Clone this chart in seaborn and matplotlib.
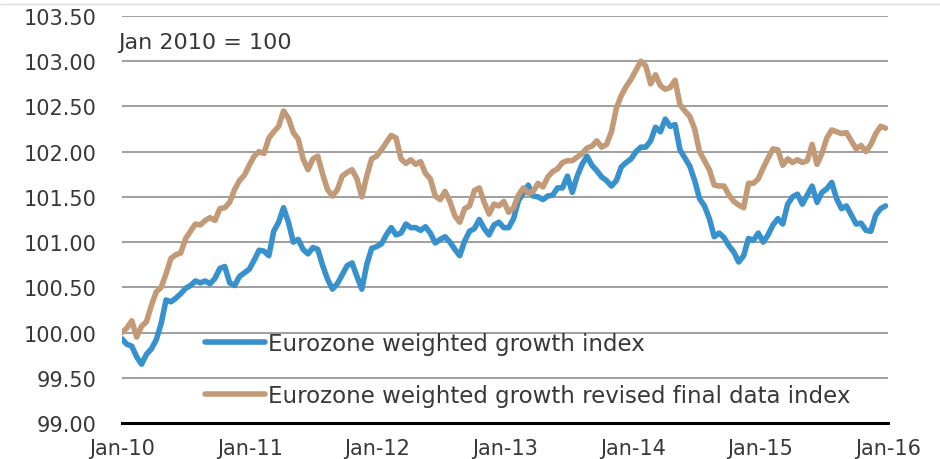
import pandas as pd
import matplotlib.pyplot as plt
import matplotlib.dates as mdates
from matplotlib.lines import Line2D
import seaborn as sns

# --- DATA (fortnightly readings, Jan 2010 = 100) ---
start_date = "2010-01-01"

growth_index = [
    99.93, 99.87, 99.85, 99.73, 99.65, 99.76, 99.82, 99.92, 100.10, 100.36,
    100.34, 100.38, 100.43, 100.49, 100.52, 100.57, 100.55, 100.57, 100.54, 100.60,
    100.71, 100.73, 100.55, 100.52, 100.62, 100.66, 100.70, 100.80, 100.91, 100.90,
    100.85, 101.12, 101.22, 101.38, 101.22, 101.00, 101.03, 100.92, 100.87, 100.94,
    100.92, 100.74, 100.59, 100.48, 100.54, 100.64, 100.74, 100.77, 100.62, 100.48,
    100.75, 100.93, 100.95, 100.98, 101.08, 101.16, 101.08, 101.10, 101.20, 101.16,
    101.16, 101.13, 101.17, 101.10, 100.99, 101.03, 101.06, 101.00, 100.92, 100.85,
    101.01, 101.12, 101.15, 101.25, 101.15, 101.08, 101.19, 101.22, 101.16, 101.16,
    101.26, 101.46, 101.54, 101.63, 101.51, 101.50, 101.47, 101.51, 101.52, 101.60,
    101.60, 101.73, 101.55, 101.73, 101.86, 101.95, 101.85, 101.79, 101.72, 101.68,
    101.62, 101.68, 101.83, 101.88, 101.92, 102.00, 102.05, 102.05, 102.12, 102.27,
    102.22, 102.36, 102.28, 102.30, 102.02, 101.93, 101.84, 101.68, 101.48, 101.40,
    101.26, 101.06, 101.10, 101.05, 100.96, 100.89, 100.78, 100.85, 101.04, 101.02,
    101.10, 101.00, 101.08, 101.19, 101.26, 101.20, 101.42, 101.50, 101.53, 101.42,
    101.52, 101.62, 101.44, 101.55, 101.59, 101.66, 101.48, 101.37, 101.40, 101.30,
    101.20, 101.21, 101.13, 101.12, 101.30, 101.37, 101.40,
]

revised_index = [
    100.00, 100.05, 100.13, 99.95, 100.07, 100.12, 100.30, 100.45, 100.50, 100.65,
    100.82, 100.86, 100.88, 101.04, 101.12, 101.20, 101.19, 101.24, 101.27, 101.24,
    101.37, 101.38, 101.44, 101.58, 101.68, 101.74, 101.85, 101.95, 102.00, 101.98,
    102.15, 102.22, 102.28, 102.45, 102.37, 102.21, 102.14, 101.92, 101.80, 101.92,
    101.95, 101.75, 101.58, 101.51, 101.58, 101.73, 101.77, 101.80, 101.70, 101.50,
    101.73, 101.92, 101.95, 102.02, 102.10, 102.18, 102.15, 101.92, 101.87, 101.91,
    101.86, 101.89, 101.76, 101.70, 101.51, 101.47, 101.56, 101.45, 101.29, 101.22,
    101.37, 101.40, 101.57, 101.60, 101.44, 101.31, 101.42, 101.40, 101.45, 101.33,
    101.38, 101.52, 101.60, 101.54, 101.56, 101.65, 101.61, 101.72, 101.78, 101.81,
    101.88, 101.90, 101.90, 101.94, 101.98, 102.04, 102.06, 102.12, 102.05, 102.08,
    102.22, 102.48, 102.62, 102.72, 102.80, 102.90, 103.00, 102.95, 102.75, 102.85,
    102.73, 102.69, 102.71, 102.79, 102.52, 102.45, 102.39, 102.25, 102.00, 101.90,
    101.80, 101.63, 101.62, 101.62, 101.52, 101.45, 101.41, 101.38, 101.65, 101.65,
    101.70, 101.82, 101.93, 102.03, 102.02, 101.85, 101.92, 101.88, 101.91, 101.88,
    101.90, 102.08, 101.86, 101.98, 102.15, 102.24, 102.22, 102.20, 102.21, 102.12,
    102.03, 102.07, 102.00, 102.08, 102.20, 102.28, 102.26,
]

label_growth = "Eurozone weighted growth index"
label_revised = "Eurozone weighted growth revised final data index"
base_note = "Jan 2010 = 100"
y_ticks = [99.0, 99.5, 100.0, 100.5, 101.0, 101.5, 102.0, 102.5, 103.0, 103.5]

COR_AZUL = "#3791cd"
COR_MARROM = "#c39a77"
COR_TEXTO = "#383838"

datas = pd.date_range(start_date, periods=len(growth_index), freq="14D")
df = pd.DataFrame({"Data": datas, "Growth": growth_index, "Revised": revised_index})

# --- VISUAL ---
sns.set_theme(style="white")
plt.rcParams["font.family"] = ["DejaVu Sans"]

fig = plt.figure(figsize=(9.4, 4.6), dpi=100)
ax = fig.add_axes([122 / 940, 1 - 424 / 460, (888 - 122) / 940, (424 - 17) / 460])

sns.lineplot(data=df, x="Data", y="Growth", color=COR_AZUL, linewidth=4.0,
             solid_joinstyle="round", solid_capstyle="round", label=label_growth, ax=ax)
sns.lineplot(data=df, x="Data", y="Revised", color=COR_MARROM, linewidth=4.0,
             solid_joinstyle="round", solid_capstyle="round", label=label_revised, ax=ax)

ax.set_xlim(pd.Timestamp("2010-01-01"), pd.Timestamp("2016-01-01"))
ax.set_ylim(99.0, 103.5)
ax.set_yticks(y_ticks)
ax.yaxis.set_major_formatter(plt.FormatStrFormatter("%.2f"))
ax.xaxis.set_major_locator(mdates.YearLocator())
ax.xaxis.set_major_formatter(mdates.DateFormatter("%b-%y"))
ax.set_xlabel("")
ax.set_ylabel("")

ax.grid(axis="y", color="#858585", linewidth=1.1)
ax.grid(axis="x", visible=False)
ax.set_axisbelow(True)
for lado in ["top", "right", "left"]:
    ax.spines[lado].set_visible(False)
ax.spines["bottom"].set_color("black")
ax.spines["bottom"].set_linewidth(2.2)
ax.spines["bottom"].set_zorder(5)

ax.tick_params(axis="y", length=0, pad=18, labelsize=15, labelcolor=COR_TEXTO)
ax.tick_params(axis="x", length=0, pad=11, labelsize=15, labelcolor=COR_TEXTO)

ax.text(118 / 940, 1 - 43 / 460, base_note, transform=fig.transFigure,
        fontsize=16, color=COR_TEXTO, va="center", ha="left")

leg = ax.legend(loc="upper left", bbox_to_anchor=(205 / 940, 1 - 333 / 460),
                bbox_transform=fig.transFigure, frameon=False, fontsize=16.5,
                handlelength=2.6, handletextpad=0.15, labelspacing=1.25,
                borderpad=0, borderaxespad=0)
for txt in leg.get_texts():
    txt.set_color(COR_TEXTO)

# faint border line at the very top of the picture
fig.add_artist(Line2D([0, 1], [1 - 5 / 460, 1 - 5 / 460], color="#dcdcdc",
                      linewidth=1, transform=fig.transFigure))

fig.savefig("out.png", dpi=100)
